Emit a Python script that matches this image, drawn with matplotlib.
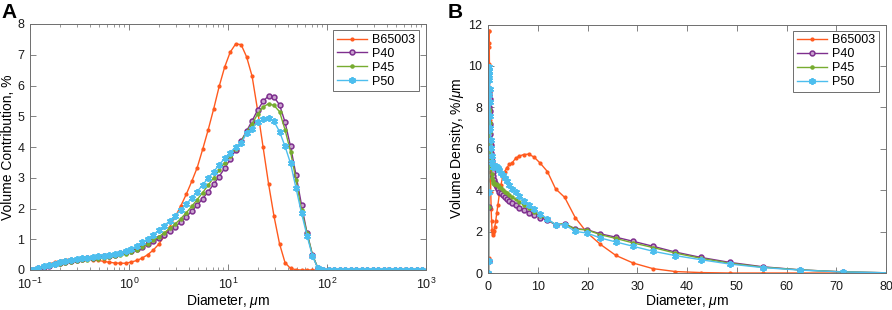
import matplotlib
matplotlib.use("Agg")
import matplotlib.pyplot as plt
import matplotlib.ticker as tick

plt.rcParams['font.family'] = ['Liberation Sans', 'DejaVu Sans']
plt.rcParams['mathtext.fontset'] = 'custom'
plt.rcParams['mathtext.rm'] = 'Liberation Sans'
plt.rcParams['mathtext.it'] = 'Liberation Sans:italic'
plt.rcParams['font.size'] = 9

# size classes (bin centres, um)
diam = [0.1, 0.106, 0.121, 0.137, 0.156, 0.177, 0.201, 0.228, 0.259, 0.295,
        0.335, 0.380, 0.432, 0.491, 0.558, 0.634, 0.720, 0.818, 0.930, 1.056,
        1.200, 1.363, 1.549, 1.760, 2.000, 2.272, 2.581, 2.933, 3.332, 3.786,
        4.301, 4.887, 5.553, 6.309, 7.168, 8.144, 9.253, 10.51, 11.94, 13.57,
        15.42, 17.52, 19.90, 22.61, 25.69, 29.19, 33.17, 37.68, 42.82, 48.65,
        55.27, 62.80, 71.35, 81.06, 92.10, 104.6, 118.9, 135.1, 153.5, 174.4,
        198.1, 225.1, 255.8, 290.6, 330.1, 375.1, 426.2, 484.2, 550.2, 625.1,
        710.2, 806.9, 916.8]

labels = ['B65003', 'P40', 'P45', 'P50']
colors = ['#FF5A1E', '#7E2F8E', '#77AC30', '#4DBEEE']
markers = ['.', 'o', '.', (6, 2, 0)]
msizes = [4, 3.5, 4.5, 5]
mfaces = ['#FF5A1E', '#C9A3CF', '#77AC30', '#4DBEEE']
medges = [1.0, 1.1, 1.0, 1.3]

# panel A: volume contribution, %
a_b65003 = [0.0, 0.01, 0.07, 0.14, 0.20, 0.25, 0.30, 0.34, 0.36, 0.37,
            0.37, 0.36, 0.34, 0.31, 0.28, 0.25, 0.23, 0.22, 0.22, 0.26,
            0.31, 0.39, 0.50, 0.65, 0.84, 1.10, 1.40, 1.73, 2.08, 2.46,
            2.88, 3.33, 3.93, 4.56, 5.24, 5.97, 6.60, 7.08, 7.35, 7.33,
            6.93, 6.30, 5.20, 4.00, 2.80, 1.74, 0.85, 0.24, 0.05, 0.01,
            0.0, 0.0, 0.0, 0.0, 0.0, 0.0, 0.0, 0.0, 0.0, 0.0,
            0.0, 0.0, 0.0, 0.0, 0.0, 0.0, 0.0, 0.0, 0.0, 0.0,
            0.0, 0.0, 0.0]
a_p40 = [0.0, 0.01, 0.05, 0.10, 0.14, 0.18, 0.22, 0.26, 0.295, 0.33,
         0.36, 0.38, 0.40, 0.42, 0.44, 0.47, 0.50, 0.54, 0.58, 0.63,
         0.69, 0.76, 0.84, 0.93, 1.03, 1.14, 1.27, 1.41, 1.56, 1.73,
         1.91, 2.11, 2.32, 2.55, 2.79, 3.04, 3.31, 3.60, 3.90, 4.20,
         4.52, 4.85, 5.20, 5.48, 5.67, 5.62, 5.37, 4.81, 4.02, 3.09,
         2.12, 1.21, 0.49, 0.05, 0.01, 0.0, 0.0, 0.0, 0.0, 0.0,
         0.0, 0.0, 0.0, 0.0, 0.0, 0.0, 0.0, 0.0, 0.0, 0.0,
         0.0, 0.0, 0.0]
a_p45 = [0.0, 0.01, 0.05, 0.09, 0.13, 0.165, 0.20, 0.23, 0.26, 0.29,
         0.31, 0.33, 0.35, 0.37, 0.39, 0.41, 0.44, 0.48, 0.53, 0.59,
         0.66, 0.75, 0.85, 0.96, 1.08, 1.21, 1.35, 1.50, 1.67, 1.86,
         2.07, 2.29, 2.52, 2.76, 3.00, 3.25, 3.49, 3.72, 3.95, 4.17,
         4.50, 4.75, 5.07, 5.30, 5.41, 5.35, 5.15, 4.56, 3.85, 2.93,
         1.95, 1.20, 0.49, 0.05, 0.01, 0.0, 0.0, 0.0, 0.0, 0.0,
         0.0, 0.0, 0.0, 0.0, 0.0, 0.0, 0.0, 0.0, 0.0, 0.0,
         0.0, 0.0, 0.0]
a_p50 = [0.0, 0.01, 0.06, 0.12, 0.17, 0.21, 0.25, 0.29, 0.33, 0.36,
         0.38, 0.40, 0.42, 0.44, 0.46, 0.49, 0.52, 0.56, 0.61, 0.69,
         0.79, 0.90, 1.02, 1.15, 1.29, 1.44, 1.60, 1.77, 1.95, 2.14,
         2.34, 2.55, 2.77, 2.99, 3.20, 3.42, 3.63, 3.82, 4.00, 4.12,
         4.45, 4.60, 4.80, 4.90, 4.94, 4.83, 4.50, 4.02, 3.47, 2.66,
         1.85, 1.12, 0.45, 0.05, 0.01, 0.0, 0.0, 0.0, 0.0, 0.0,
         0.0, 0.0, 0.0, 0.0, 0.0, 0.0, 0.0, 0.0, 0.0, 0.0,
         0.0, 0.0, 0.0]

# panel B: volume density, %/um (size classes up to ~81 um)
b_b65003 = [0.0, 0.74, 4.5, 8.0, 10.1, 11.1, 11.7, 11.7, 10.9, 9.8,
            8.7, 7.4, 6.2, 4.9, 3.9, 3.1, 2.5, 2.1, 1.85, 1.93,
            2.02, 2.24, 2.5, 2.9, 3.3, 3.8, 4.24, 4.62, 4.89, 5.09,
            5.24, 5.33, 5.54, 5.65, 5.72, 5.74, 5.6, 5.3, 4.9, 4.07,
            3.65, 2.68, 1.95, 1.38, 0.85, 0.48, 0.21, 0.07, 0.02, 0.0,
            0.0, 0.0, 0.0, 0.0]
b_p40 = [0.0, 0.6, 3.2, 5.7, 7.0, 8.0, 8.6, 8.9, 8.9, 8.8,
         8.4, 7.8, 7.2, 6.7, 6.2, 5.8, 5.4, 5.2, 4.9, 4.67,
         4.5, 4.36, 4.24, 4.14, 4.04, 3.93, 3.85, 3.76, 3.67, 3.58,
         3.48, 3.38, 3.27, 3.16, 3.05, 2.92, 2.8, 2.68, 2.56, 2.32,
         2.37, 2.14, 2.09, 1.89, 1.73, 1.53, 1.29, 1.01, 0.75, 0.51,
         0.3, 0.15, 0.054, 0.005]
b_p45 = [0.0, 0.6, 3.2, 5.1, 6.5, 7.3, 7.8, 7.9, 7.85, 7.7,
         7.25, 6.8, 6.3, 5.9, 5.45, 5.06, 4.78, 4.6, 4.46, 4.37,
         4.31, 4.3, 4.29, 4.27, 4.23, 4.17, 4.09, 4.0, 3.92, 3.85,
         3.77, 3.66, 3.55, 3.42, 3.28, 3.12, 2.95, 2.77, 2.59, 2.34,
         2.38, 2.12, 2.08, 1.85, 1.67, 1.45, 1.23, 0.96, 0.71, 0.47,
         0.28, 0.15, 0.054, 0.005]
b_p50 = [0.0, 0.6, 3.9, 6.9, 8.6, 9.3, 9.75, 9.95, 9.97, 9.58,
         8.9, 8.24, 7.6, 7.0, 6.44, 6.05, 5.65, 5.36, 5.14, 5.11,
         5.16, 5.17, 5.15, 5.12, 5.06, 4.97, 4.85, 4.73, 4.58, 4.43,
         4.26, 4.08, 3.9, 3.71, 3.49, 3.29, 3.07, 2.85, 2.62, 2.33,
         2.33, 2.01, 1.93, 1.69, 1.5, 1.29, 1.05, 0.84, 0.64, 0.43,
         0.26, 0.14, 0.05, 0.005]

a_series = [a_b65003, a_p40, a_p45, a_p50]
b_series = [b_b65003, b_p40, b_p45, b_p50]

fig = plt.figure(figsize=(8.92, 3.10), dpi=100)
ax1 = fig.add_axes([30/892, 40/310, 396/892, 246/310])
ax2 = fig.add_axes([488/892, 37/310, 398/892, 248.5/310])


def style_axes(ax, xpad):
    for sp in ax.spines.values():
        sp.set_color('#6e6e6e')
        sp.set_linewidth(0.7)
    ax.tick_params(which='both', direction='in', top=True, right=True,
                   colors='#6e6e6e', labelcolor='#1a1a1a', labelsize=9)
    ax.tick_params(axis='x', which='both', pad=xpad)
    ax.tick_params(axis='y', which='both', pad=4)
    ax.tick_params(which='major', length=4, width=0.6)
    ax.tick_params(which='minor', length=2, width=0.5)


def draw(ax, xs, series):
    for vals, lab, c, m, ms, mf, mew in zip(series, labels, colors, markers, msizes, mfaces, medges):
        ax.plot(xs[:len(vals)], vals, color=c, marker=m, markersize=ms,
                markerfacecolor=mf, markeredgewidth=mew, linewidth=1.0, label=lab)
    leg = ax.legend(loc='upper right', bbox_to_anchor=(0.982, 0.975), fancybox=False,
                    edgecolor='#6e6e6e', framealpha=1, fontsize=9, handlelength=2.4,
                    borderpad=0.3, labelspacing=0.15, handletextpad=0.4, borderaxespad=0)
    leg.get_frame().set_linewidth(0.7)


# panel A
draw(ax1, diam, a_series)
ax1.set_xscale('log')
ax1.set_xlim(0.1, 1000)
ax1.set_ylim(0, 8)
ax1.xaxis.set_major_locator(tick.LogLocator(base=10))
ax1.xaxis.set_minor_locator(tick.LogLocator(base=10, subs=range(2, 10)))
ax1.xaxis.set_minor_formatter(tick.NullFormatter())
ax1.yaxis.set_major_locator(tick.MultipleLocator(1))
ax1.set_xlabel('Diameter, $\\mu$m', fontsize=10)
ax1.set_ylabel('Volume Contribution, %', fontsize=10)
ax1.xaxis.set_label_coords(0.5, -0.088)
ax1.yaxis.set_label_coords(-0.038, 0.5)
style_axes(ax1, 5)

# panel B
draw(ax2, diam, b_series)
ax2.set_xlim(0, 80)
ax2.set_ylim(0, 12)
ax2.xaxis.set_major_locator(tick.MultipleLocator(10))
ax2.yaxis.set_major_locator(tick.MultipleLocator(2))
ax2.set_xlabel('Diameter, $\\mu$m', fontsize=10)
ax2.set_ylabel('Volume Density, %/$\\mu$m', fontsize=10)
ax2.xaxis.set_label_coords(0.5, -0.076)
ax2.yaxis.set_label_coords(-0.055, 0.5)
style_axes(ax2, 6)

fig.text(1/892, 1 - 3/310, 'A', fontsize=15, fontweight='bold', va='top', ha='left')
fig.text(448/892, 1 - 3/310, 'B', fontsize=15, fontweight='bold', va='top', ha='left')

fig.savefig('out.png', dpi=100)
